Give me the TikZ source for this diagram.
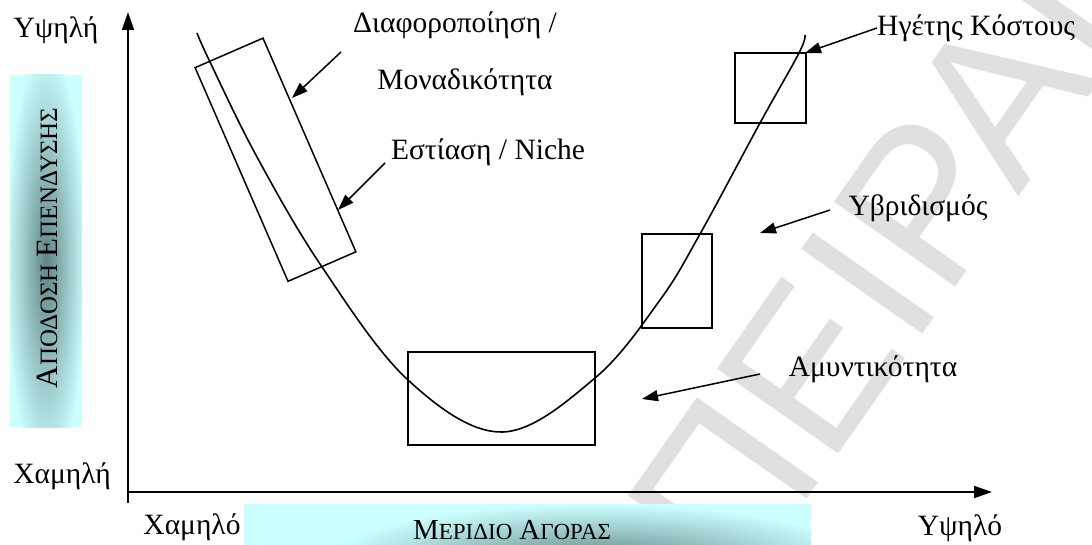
\documentclass[tikz,border=0pt]{standalone}
\usepackage{fontspec}
\setmainfont{Liberation Serif}
\newfontfamily\wmfont{Liberation Sans}
\usetikzlibrary{arrows.meta}
\definecolor{paleaqua}{RGB}{204,255,255}
\definecolor{deepaqua}{RGB}{96,132,132}
\definecolor{wmgray}{RGB}{224,224,224}
% small-caps style heading: large initial, smaller capitals after it
\newcommand{\capinit}[2]{{\fontsize{#1}{#1}\selectfont #2}}
\newcommand{\capsmall}[2]{{\fontsize{#1}{#1}\selectfont #2}}

\tikzset{
  lbl/.style={font=\fontsize{29.5}{32}\selectfont, inner sep=0pt, anchor=base},
  stratbox/.style={draw, line width=1.5pt, inner sep=0pt},
  pointer/.style={line width=1.5pt, -{Triangle[length=16pt,width=11pt]}},
  axis/.style={line width=1.8pt, -{Triangle[length=18pt,width=12pt]}},
  curve/.style={line width=1.6pt},
  wm/.style={font=\wmfont\fontsize{215}{215}\selectfont, text=wmgray, inner sep=0pt},
}

\begin{document}
\begin{tikzpicture}[x=1pt,y=-1pt]
\useasboundingbox (0,0) rectangle (1092,545);
\fill[white] (0,0) rectangle (1092,545);

% watermark
\node[wm, rotate=55] (wmark) at (918,212) {ΠΕΙΡΑΙΑ};

% shaded axis captions
\begin{scope}
  \clip (10,75) rectangle (82,427);
  \fill[paleaqua] (10,75) rectangle (82,427);
  \shade[inner color=deepaqua, outer color=paleaqua] (46,262) ellipse (40 and 215);
\end{scope}
\begin{scope}
  \clip (244,504) rectangle (811,545);
  \fill[paleaqua] (244,504) rectangle (811,545);
  \shade[inner color=deepaqua, outer color=paleaqua] (595,562) ellipse (270 and 58);
\end{scope}
\node[inner sep=0pt, rotate=90, anchor=base] (ylab) at (57,248)
  {\capinit{31}{Α}\capsmall{25}{ΠΟΔΟΣΗ}\hspace{7pt}\capinit{31}{Ε}\capsmall{25}{ΠΕΝΔΥΣΗΣ}};
\node[inner sep=0pt, anchor=base] (xlab) at (512,539)
  {\capinit{29}{Μ}\capsmall{23}{ΕΡΙΔΙΟ}\hspace{7pt}\capinit{29}{Α}\capsmall{23}{ΓΟΡΑΣ}};

% axes
\coordinate (origin) at (128,492);
\coordinate (ybot) at (128,503);
\coordinate (ytop) at (128,12);
\coordinate (xend) at (992,492);
\draw[axis] (ybot) -- (ytop);
\draw[axis] (origin) -- (xend);

\node[lbl] (yhigh) at (56,38) {Υψηλή};
\node[lbl] (ylow) at (62,483) {Χαμηλή};
\node[lbl] (xlow) at (192,534) {Χαμηλό};
\node[lbl] (xhigh) at (960,535) {Υψηλό};

% strategy curve
\draw[curve] plot[smooth, tension=0.6] coordinates {
  (197,33) (210,62) (257,157) (322,267) (408,380) (502,432)
  (595,378) (660,300) (700,234) (760,123) (799,53) (805,35)};

% strategy boxes
\node[stratbox, minimum width=233pt, minimum height=74pt, rotate=-66.5] (nichebox) at (275.5,159.75) {};
\node[stratbox, minimum width=187pt, minimum height=93pt] (defbox) at (501.5,398.5) {};
\node[stratbox, minimum width=70pt, minimum height=94pt] (hybbox) at (677,281) {};
\node[stratbox, minimum width=71pt, minimum height=70pt] (costbox) at (770.5,88) {};

% labels
\node[lbl] (diffA) at (455,33) {Διαφοροποίηση /};
\node[lbl] (diffB) at (465,90) {Μοναδικότητα};
\node[lbl] (niche) at (488,160) {Εστίαση / Niche};
\node[lbl, anchor=base west] (cost) at (877,36) {Ηγέτης Κόστους};
\node[lbl] (hyb) at (918,216) {Υβριδισμός};
\node[lbl] (def) at (873,376) {Αμυντικότητα};

% pointers
\coordinate (diffTail) at (341,52);
\coordinate (diffTip) at (292,98);
\coordinate (nicheTail) at (385,163);
\coordinate (nicheTip) at (338,210);
\coordinate (costTail) at (877,28);
\coordinate (costTip) at (805,53);
\coordinate (hybTail) at (830,210);
\coordinate (hybTip) at (760,233);
\coordinate (defTail) at (760,374);
\coordinate (defTip) at (642,399);
\draw[pointer] (diffTail) -- (diffTip);
\draw[pointer] (nicheTail) -- (nicheTip);
\draw[pointer] (costTail) -- (costTip);
\draw[pointer] (hybTail) -- (hybTip);
\draw[pointer] (defTail) -- (defTip);
\end{tikzpicture}
\end{document}
